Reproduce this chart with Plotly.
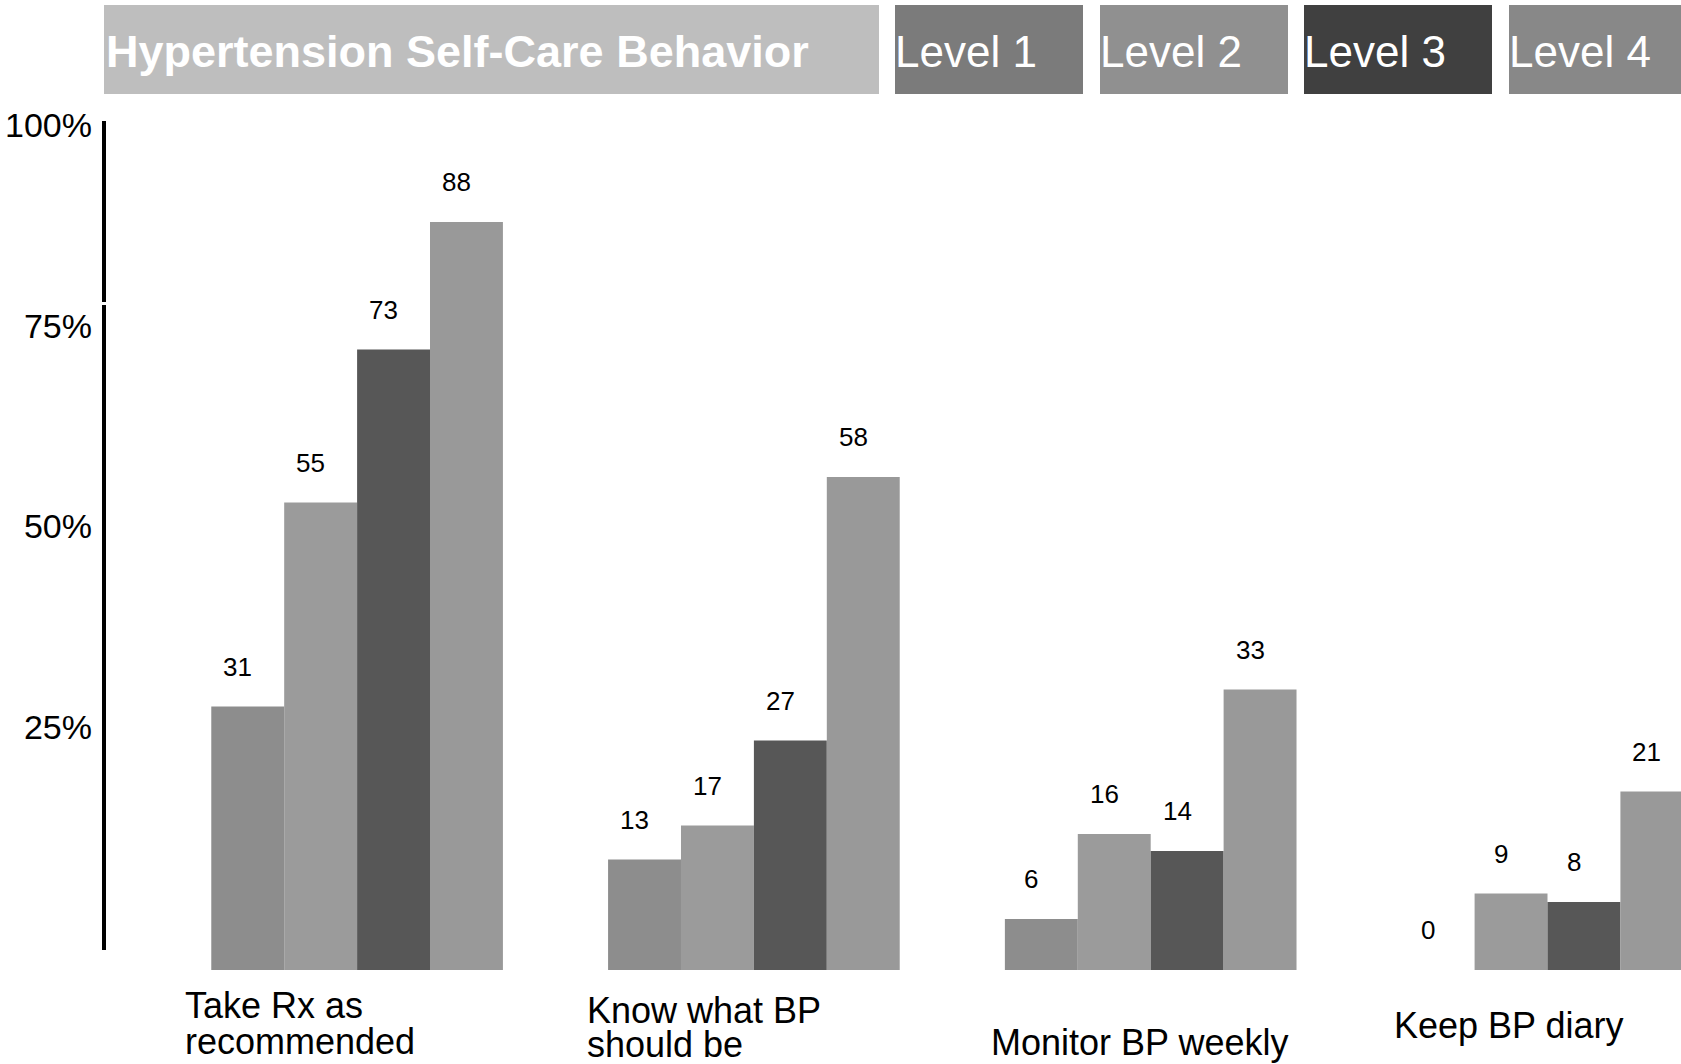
import plotly.graph_objects as go

# ---------------- data ----------------
categories = ["Take Rx as\nrecommended", "Know what BP\nshould be", "Monitor BP weekly", "Keep BP diary"]
levels = ["Level 1", "Level 2", "Level 3", "Level 4"]
level1 = [31, 13, 6, 0]
level2 = [55, 17, 16, 9]
level3 = [73, 27, 14, 8]
level4 = [88, 58, 33, 21]
y_tick_values = [25, 50, 75, 100]
y_tick_labels = ["25%", "50%", "75%", "100%"]
title_text = "Hypertension Self-Care Behavior"

# ---------------- styles ----------------
W, H = 1681, 1064
FONT = "Liberation Sans, Arial, sans-serif"
bar_colors = ["#8d8d8d", "#9b9b9b", "#575757", "#999999"]
header_colors = ["#7b7b7b", "#909090", "#404040", "#888888"]
title_box_color = "#bebebe"
bargap = 0.265


def px(xp):
    return xp / W


def py(yp):
    return 1 - yp / H


series = [level1, level2, level3, level4]
xs = list(range(len(categories)))

fig = go.Figure()
for name, vals, col in zip(levels, series, bar_colors):
    fig.add_trace(go.Bar(x=xs, y=vals, name=name, marker=dict(color=col, line=dict(width=0)),
                         showlegend=False, hoverinfo="skip"))

# invisible trace for the percentage axis subplot
fig.add_trace(go.Scatter(x=[0], y=[0], xaxis="x2", yaxis="y2", mode="markers",
                         marker=dict(opacity=0), showlegend=False, hoverinfo="skip"))

annotations = []
# value labels above each bar
bw = (1 - bargap) / len(levels)
for j, vals in enumerate(series):
    for i, v in enumerate(vals):
        annotations.append(dict(
            x=i + (j - (len(levels) - 1) / 2) * bw, y=v, xref="x", yref="y",
            text=str(v), showarrow=False, yanchor="middle", xanchor="center",
            yshift=40, xshift=-10, font=dict(family=FONT, size=26, color="black")))

# category labels (left-aligned blocks under each group)
cat_left = [183, 585, 989, 1392]
cat_line_y = [[1005, 1041], [1010, 1044], [1042], [1025]]
for cat, left, ys in zip(categories, cat_left, cat_line_y):
    for line, yy in zip(cat.split("\n"), ys):
        annotations.append(dict(
            x=px(left), y=py(yy), xref="paper", yref="paper", text=line,
            showarrow=False, xanchor="left", yanchor="middle",
            font=dict(family=FONT, size=36, color="black")))

# header: title box and level boxes
shapes = []
shapes.append(dict(type="rect", xref="paper", yref="paper", x0=px(104), x1=px(879),
                   y0=py(94), y1=py(5), fillcolor=title_box_color, line=dict(width=0), layer="above"))
annotations.append(dict(x=px(104), y=py(51), xref="paper", yref="paper", text="<b>" + title_text + "</b>",
                        showarrow=False, xanchor="left", yanchor="middle",
                        font=dict(family=FONT, size=45, color="white")))
box_left = [895, 1100, 1304, 1509]
box_w = 188
for name, col, left in zip(levels, header_colors, box_left):
    shapes.append(dict(type="rect", xref="paper", yref="paper", x0=px(left), x1=px(left + box_w),
                       y0=py(94), y1=py(5), fillcolor=col, line=dict(width=0), layer="above"))
    annotations.append(dict(x=px(left - 2), y=py(51), xref="paper", yref="paper", text=name,
                            showarrow=False, xanchor="left", yanchor="middle",
                            font=dict(family=FONT, size=44, color="white")))

# small break in the axis line
shapes.append(dict(type="rect", xref="paper", yref="paper", x0=px(99), x1=px(109),
                   y0=py(305), y1=py(302), fillcolor="white", line=dict(width=0), layer="above"))

# pixel geometry of the axes
bar_base = 970.0
bar_scale = 8.5          # px per unit for bars
x_center0 = 357.1
x_step = 396.8
pct_zero = 928.0
pct_scale = 8.03
pct_top, pct_bottom = 121.0, 950.0

fig.update_layout(
    width=W, height=H, autosize=False,
    margin=dict(l=0, r=0, t=0, b=0, pad=0, autoexpand=False),
    paper_bgcolor="white", plot_bgcolor="rgba(0,0,0,0)",
    barmode="group", bargap=bargap, bargroupgap=0,
    xaxis=dict(domain=[0, 1], range=[-x_center0 / x_step, (W - x_center0) / x_step],
               visible=False, fixedrange=True, automargin=False),
    yaxis=dict(domain=[0, 1], range=[-(H - bar_base) / bar_scale, bar_base / bar_scale],
               visible=False, fixedrange=True, automargin=False),
    xaxis2=dict(domain=[0, 1], anchor="y2", visible=False, range=[0, 1], automargin=False),
    yaxis2=dict(domain=[py(pct_bottom), py(pct_top)], anchor="free", position=px(103.5),
                range=[-(pct_bottom - pct_zero) / pct_scale, (pct_zero - pct_top) / pct_scale],
                showline=True, linewidth=3.5, linecolor="black", showgrid=False, zeroline=False,
                ticks="", tickvals=y_tick_values, ticktext=y_tick_labels,
                ticklabelstandoff=3, automargin=False,
                tickfont=dict(family=FONT, size=34, color="black")),
    annotations=annotations,
    shapes=shapes,
    font=dict(family=FONT),
)

fig.write_html("out.html")
